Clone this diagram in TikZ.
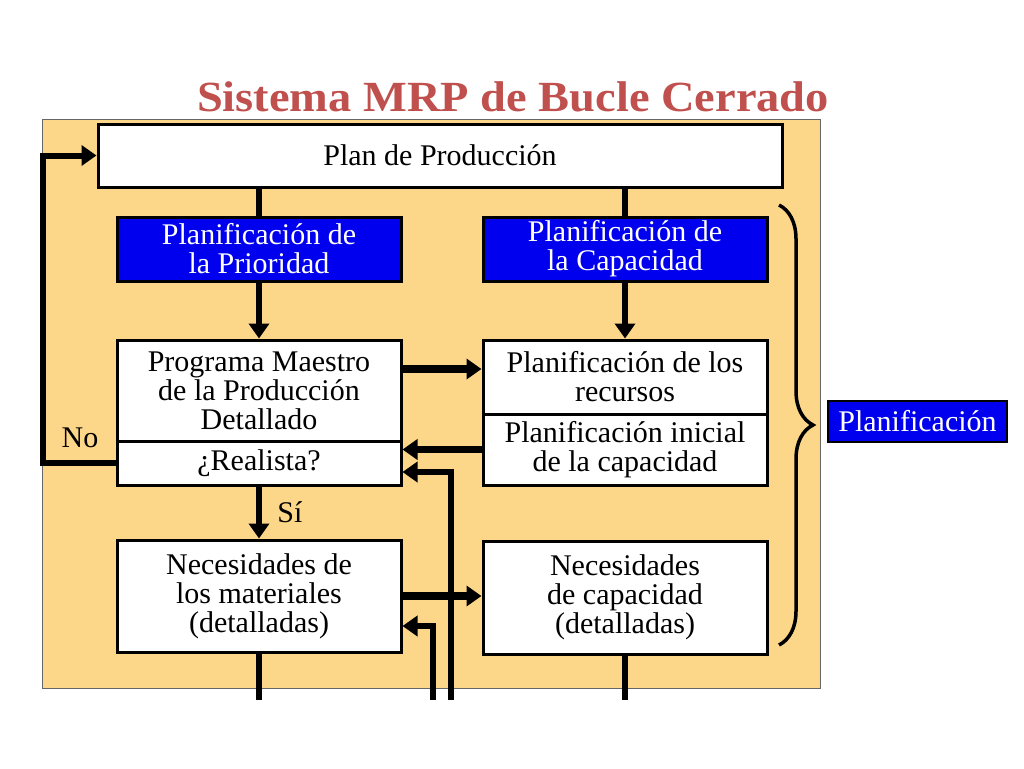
\documentclass[tikz,border=0pt]{standalone}
\usepackage{fontspec}
\setmainfont{Liberation Serif}
\newfontfamily\titlefont{Liberation Serif}[FakeStretch=1.08]
\usetikzlibrary{arrows.meta,decorations.pathreplacing,positioning}
\tikzset{>={Triangle[length=15pt,width=20pt]}}
\definecolor{fondo}{RGB}{253,215,137}
\definecolor{azul}{RGB}{0,0,238}
\definecolor{titulo}{RGB}{192,80,77}
\tikzset{%
    caja/.style={draw,line width=3pt,fill=white,minimum width=284pt,%
        inner sep=0pt,align=center,font=\fontsize{30}{29}\selectfont},%
    cajaazul/.style={caja,fill=azul,text=white},%
    flecha/.style={->,line width=6pt},%
    flechah/.style={->,line width=7.5pt},%
    linea/.style={line width=6pt},%
    etiqueta/.style={font=\fontsize{30}{29}\selectfont}%
}

\begin{document}
\begin{tikzpicture}[x=1pt,y=-1pt]
    \useasboundingbox (0,0) rectangle (1024,768);
    % fondo
    \fill[fondo,draw=black!60,line width=1pt] (42,119) rectangle (820,688);
    \node[font=\titlefont\bfseries\fontsize{43}{43}\selectfont,text=titulo] (tit) at (513,97) {Sistema MRP de Bucle Cerrado};

    \node[caja,minimum width=684pt,minimum height=63pt] (plan) at (440,155.5) {Plan de Producción};
    \node[cajaazul,minimum height=64pt] (prio) at (259,249) {Planificación de\\la Prioridad};
    \node[cajaazul,minimum height=64pt] (capa) at (625,249) {Planificación de\\la Capacidad};
    \node[caja,minimum height=101pt] (prog) at (259,390.5) {Programa Maestro\\de la Producción\\Detallado};
    \node[caja,minimum height=44pt] (real) at (259,463) {¿Realista?};
    \node[caja,minimum height=74pt] (recu) at (625,377) {Planificación de los\\recursos};
    \node[caja,minimum height=71pt] (inic) at (625,449.5) {Planificación inicial\\de la capacidad};
    \node[caja,minimum height=112pt] (mate) at (259,596) {Necesidades de\\los materiales\\(detalladas)};
    \node[caja,minimum height=113pt] (ncap) at (625,597.5) {Necesidades\\de capacidad\\(detalladas)};
    \node[cajaazul,line width=2pt,minimum width=179pt,minimum height=41pt] (plfi) at (917.5,421.5) {Planificación};

    % extremos libres
    \coordinate (fm) at (259,700);
    \coordinate (fc) at (625,700);
    \coordinate (f1) at (433,700);
    \coordinate (f2) at (451,700);
    \coordinate (r1) at ([yshift=8pt]recu.west);

    \draw[linea] (plan.south -| prio.north) -- (prio.north);
    \draw[linea] (plan.south -| capa.north) -- (capa.north);
    \draw[flecha] (prio.south) -- (prog.north);
    \draw[flecha] (capa.south) -- (recu.north);
    \draw[flechah] (prog.east |- r1) -- (r1);
    \draw[flechah] (inic.west) -- (inic.west -| real.east);
    \draw[flecha] (f2) |- ([yshift=-9pt]real.east);
    \draw[flecha] (f1) |- ([yshift=-30pt]mate.east);
    \draw[flechah] (mate.east) -- (mate.east -| ncap.west);
    \draw[flecha] (real.south) -- node[etiqueta,right=12pt] (si) {Sí} (mate.north);
    \draw[linea] (mate.south) -- (fm);
    \draw[linea] (ncap.south) -- (fc);
    \draw[flecha] (real.west) -- ++(-73,0) |- (plan.west);
    \node[etiqueta] (no) at (80,438) {No};

    \draw[line width=3.5pt,decorate,decoration={brace,amplitude=34pt}] (779,205) -- (779,645);
\end{tikzpicture}
\end{document}
